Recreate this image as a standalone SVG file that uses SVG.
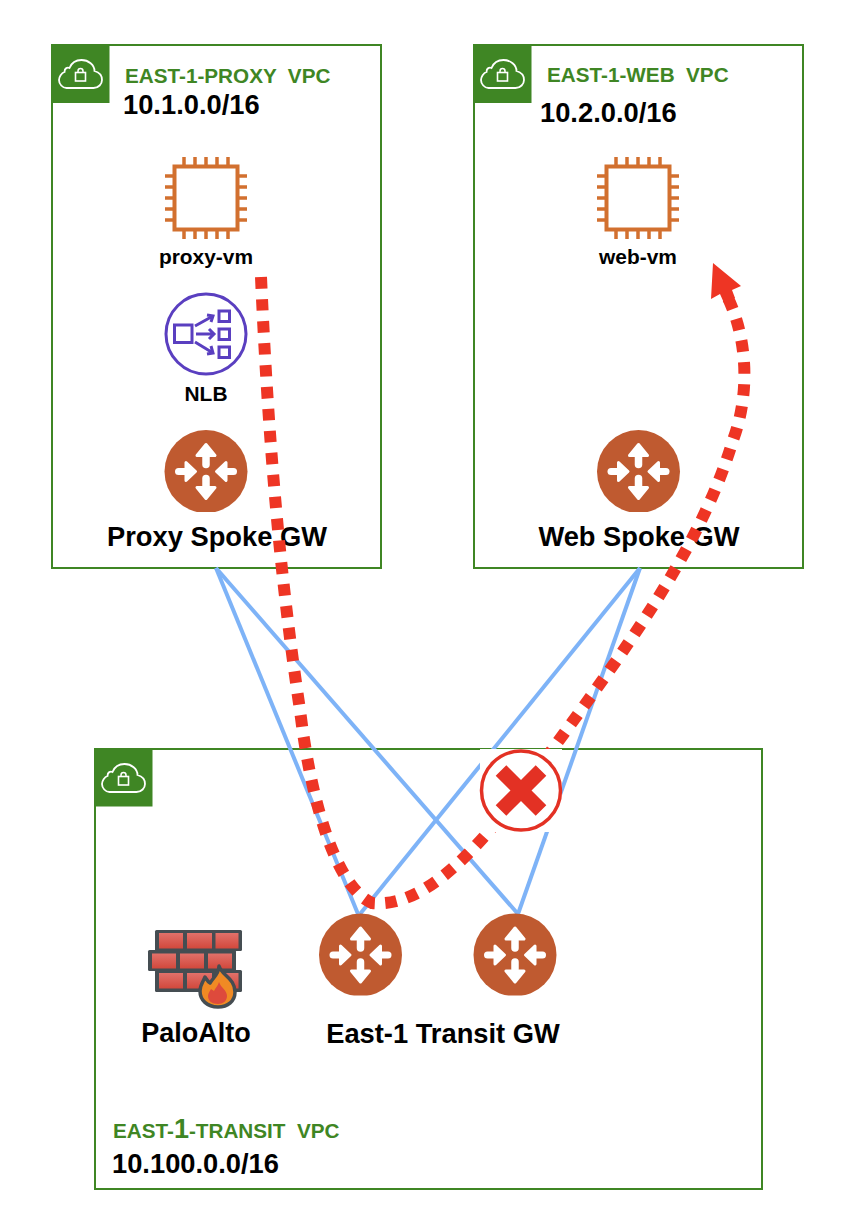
<svg xmlns="http://www.w3.org/2000/svg" xmlns:xlink="http://www.w3.org/1999/xlink" width="846" height="1230" viewBox="0 0 846 1230">
<style>
text{font-family:"Liberation Sans",Arial,sans-serif;font-weight:700;white-space:pre}
.vpc{fill:#fff;stroke:#3f8624;stroke-width:2}
.tag{fill:#3f8624}
.g{fill:#3f8624;font-size:20.7px}
.k{fill:#000;font-size:27.3px}
.n{fill:#000;font-size:20.9px}
.l{fill:#000;font-size:27.3px}
.link{fill:none;stroke:#7eb3f7;stroke-width:4}
.chip{fill:none;stroke:#d2702f}
</style>
<defs>
<linearGradient id="brick" x1="0" y1="0" x2="0" y2="1"><stop offset="0" stop-color="#e2716a"/><stop offset="1" stop-color="#d2483c"/></linearGradient>
<clipPath id="rc"><rect x="-42" y="-42" width="84" height="82.500"/></clipPath>
<g id="cloud">
<path d="M-14 14H13C18 14 21.500 10 21.500 6C21.500 1 18-2 14-3C14-9 8-14 1-14C-5-14-9-11-11-6C-13-7-16-6-16-2C-19-1-21.500 3-21.500 6C-21.500 10-18 14-14 14Z" fill="none" stroke="#fff" stroke-width="1.800"/>
<rect x="-5" y="-1.500" width="10" height="8.500" fill="none" stroke="#fff" stroke-width="1.600"/>
<path d="M-2.500-1.500V-3A2.500 2.500 0 0 1 2.500-3V-1.500" fill="none" stroke="#fff" stroke-width="1.500"/>
</g>
<g id="ar">
<path d="M0-14V-7" stroke="#fff" stroke-width="7.500" stroke-linecap="round" fill="none"/>
<path d="M0-27L9-16H-9Z" fill="#fff" stroke="#fff" stroke-width="3" stroke-linejoin="round"/>
</g>
<g id="al">
<path d="M0-18V-27.500" stroke="#fff" stroke-width="7" stroke-linecap="round" fill="none"/>
<path d="M0-10.500L9-20H-9Z" fill="#fff" stroke="#fff" stroke-width="3" stroke-linejoin="round"/>
</g>
<g id="router">
<circle r="41.500" fill="#bf5a30" clip-path="url(#rc)"/>
<use xlink:href="#ar"/>
<use xlink:href="#ar" transform="rotate(180)"/>
<use xlink:href="#al" transform="rotate(90)"/>
<use xlink:href="#al" transform="rotate(-90)"/>
</g>
<g id="chip" class="chip">
<rect x="-31.500" y="-31.500" width="63" height="63" stroke-width="4"/>
<path d="M-22-32V-41M-11-32V-41M0-32V-41M11-32V-41M22-32V-41M-22 32V41M-11 32V41M0 32V41M11 32V41M22 32V41M-41-22H-32M-41-11H-32M-41 0H-32M-41 11H-32M-41 22H-32M41-22H32M41-11H32M41 0H32M41 11H32M41 22H32" stroke-width="3.500"/>
</g>
</defs>
<rect width="846" height="1230" fill="#fff"/>

<g id="vpc-proxy">
<rect class="vpc" x="52" y="45" width="329" height="523"/>
<rect class="tag" x="52" y="45" width="57.500" height="58"/>
<use xlink:href="#cloud" x="80.500" y="74"/>
<text class="g" x="125" y="83">EAST-1-PROXY  VPC</text>
<text class="k" x="123" y="114">10.1.0.0/16</text>
</g>
<g id="vpc-web">
<rect class="vpc" x="474" y="45" width="329" height="523"/>
<rect class="tag" x="474" y="45" width="57.500" height="58"/>
<use xlink:href="#cloud" x="502.500" y="74"/>
<text class="g" x="547" y="82">EAST-1-WEB  VPC</text>
<text class="k" x="540" y="122">10.2.0.0/16</text>
</g>
<g id="vpc-transit">
<rect class="vpc" x="95" y="749" width="667" height="440"/>
<rect class="tag" x="95" y="749" width="57.500" height="57.500"/>
<use xlink:href="#cloud" x="123.500" y="778"/>
<text class="g" x="113" y="1138">EAST-<tspan style="font-size:27px">1</tspan>-TRANSIT  VPC</text>
<text class="k" x="112" y="1173">10.100.0.0/16</text>
</g>

<g id="connectors">
<path class="link" d="M216 568L358 914"/>
<path class="link" d="M216 568L518 914"/>
<path class="link" d="M640 568L360 914"/>
<path class="link" d="M640 568L518 914"/>
</g>

<g id="proxy-vm">
<use xlink:href="#chip" x="206" y="198"/>
<text class="n" x="206" y="264" text-anchor="middle">proxy-vm</text>
</g>
<g id="nlb">
<circle cx="206" cy="334" r="40" fill="none" stroke="#5a3fc0" stroke-width="3"/>
<g fill="none" stroke="#5a3fc0" stroke-width="3">
<rect x="174.500" y="325" width="17.500" height="17.500"/>
<rect x="219" y="311" width="10.500" height="10.500"/>
<rect x="219" y="329" width="10.500" height="10.500"/>
<rect x="219" y="347" width="10.500" height="10.500"/>
<path d="M195 326L213 316M207 315L213 316L211 322"/>
<path d="M196 334H214M209 329L214 334L209 339"/>
<path d="M195 342L213 353M211 346L213 353L207 354"/>
</g>
<text class="n" x="206" y="401" text-anchor="middle">NLB</text>
</g>
<g id="proxy-spoke-gw">
<use xlink:href="#router" x="206" y="471.500"/>
<text class="l" x="217" y="546" text-anchor="middle">Proxy Spoke GW</text>
</g>
<g id="web-vm">
<use xlink:href="#chip" x="638" y="198"/>
<text class="n" x="638" y="264" text-anchor="middle">web-vm</text>
</g>
<g id="web-spoke-gw">
<use xlink:href="#router" x="638.500" y="471.500"/>
<text class="l" x="639" y="546" text-anchor="middle">Web Spoke GW</text>
</g>
<g id="transit-gw-1"><use xlink:href="#router" x="360.500" y="955"/></g>
<g id="transit-gw-2"><use xlink:href="#router" x="515" y="955"/></g>
<text class="l" x="443" y="1043" text-anchor="middle">East-1 Transit GW</text>
<g id="paloalto">
<rect x="155" y="930" width="87" height="21" rx="1.500" fill="#454d52"/>
<rect x="148" y="950" width="88" height="21" rx="1.500" fill="#454d52"/>
<rect x="155" y="970" width="87" height="22" rx="1.500" fill="#454d52"/>
<g fill="url(#brick)">
<rect x="159" y="933" width="24" height="15.500"/><rect x="187" y="933" width="25" height="15.500"/><rect x="215.500" y="933" width="23" height="15.500"/>
<rect x="152" y="953.500" width="24" height="15"/><rect x="180" y="953.500" width="24" height="15"/><rect x="208" y="953.500" width="24" height="15"/>
<rect x="159" y="973" width="24" height="15.500"/><rect x="187" y="973" width="25" height="15.500"/><rect x="215.500" y="973" width="23" height="15.500"/>
</g>
<path d="M219 966C222 976 235 978 235 992C235 1001 228 1007 218 1007C207 1007 200 1000 200 991C200 985 203 982 205 977C207 980 208 982 210 983C213 978 219 974 219 966Z" fill="#f08a24" stroke="#454d52" stroke-width="3.500" stroke-linejoin="round"/>
<path d="M219 982C221 988 227 990 227 996C227 1001 223 1004 218 1004C212 1004 208 1001 208 996C208 993 210 991 211 989L214 991C215 988 218 986 219 982Z" fill="#de4a3c"/>
<text class="n" x="196" y="1042" style="font-size:27px" text-anchor="middle">PaloAlto</text>
</g>

<g id="flow">
<path d="M261 277C270 480 285 610 300 710C312 810 338 888 372 903C425 908 480 850 546 758C625 650 700 550 733 440C748 400 750 345 728 298" fill="none" stroke="#ee3524" stroke-width="12" stroke-dasharray="11.500 10.500"/>
<path d="M713 263L741 286L732 290L735 298L724 303L720 294L711 299Z" fill="#ee3524"/>
</g>
<g id="blocked">
<rect x="480" y="749" width="82" height="83" fill="#fff"/>
<circle cx="521" cy="790.500" r="39.500" fill="#fff" stroke="#e33124" stroke-width="3.500"/>
<path d="M501 770.500L541 810.500M541 770.500L501 810.500" stroke="#e33124" stroke-width="15" fill="none"/>
</g>
</svg>
